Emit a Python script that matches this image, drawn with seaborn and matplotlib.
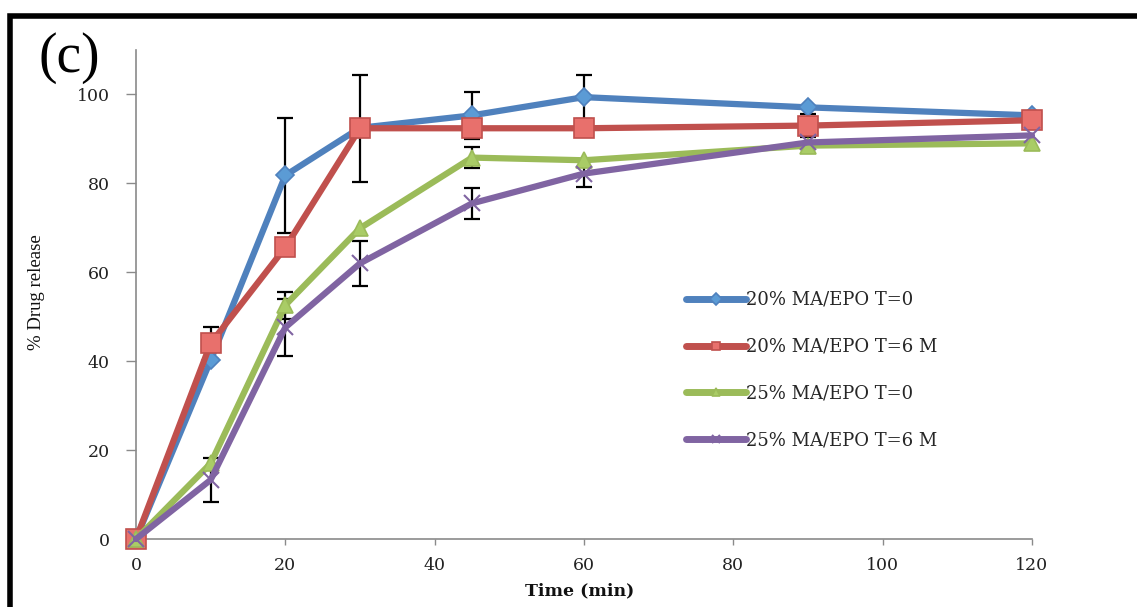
import numpy as np
import pandas as pd
import seaborn as sns
import matplotlib.pyplot as plt
from matplotlib.patches import Rectangle

# time points (min)
time = [0, 10, 20, 30, 45, 60, 90, 120]

labels = ['20% MA/EPO T=0', '20% MA/EPO T=6 M', '25% MA/EPO T=0', '25% MA/EPO T=6 M']

ma20_t0 = [0, 40.2, 81.8, 92.5, 95.3, 99.4, 97.1, 95.3]
ma20_t6 = [0, 44.0, 65.6, 92.4, 92.4, 92.4, 93.0, 94.2]
ma25_t0 = [0, 17.0, 52.6, 69.9, 85.8, 85.2, 88.5, 89.0]
ma25_t6 = [0, 13.3, 47.6, 62.0, 75.5, 82.2, 89.2, 90.8]

# standard deviations (0 = no bar visible)
err20_t0 = [0, 0, 13.0, 0, 5.3, 5.0, 0, 0]
err20_t6 = [0, 3.6, 0, 12.0, 0, 0, 2.5, 0]
err25_t0 = [0, 0, 3.0, 0, 2.3, 0, 0, 0]
err25_t6 = [0, 5.0, 6.5, 5.0, 3.5, 3.0, 0, 0]

colors = ['#4F81BD', '#C0504D', '#9BBB59', '#8064A2']
faces = ['#5B9BD5', '#E8706C', '#A9CC66', '#8E78B0']
markers = ['D', 's', '^', 'x']
msizes = [9, 14, 11, 12]

values = [ma20_t0, ma20_t6, ma25_t0, ma25_t6]
errors = [err20_t0, err20_t6, err25_t0, err25_t6]

sns.set_theme(style='white')
plt.rcParams['font.family'] = ['DejaVu Serif']

fig = plt.figure(figsize=(11.37, 6.07), dpi=100)
ax = fig.add_axes([0.1196, 0.112, 0.788, 0.8056])

for i in range(4):
    df = pd.DataFrame({'t': time, 'y': values[i]})
    sns.lineplot(data=df, x='t', y='y', ax=ax, color=colors[i], linewidth=4.5,
                 marker=markers[i], markersize=msizes[i], markerfacecolor=faces[i],
                 markeredgecolor=colors[i], markeredgewidth=1.2 if markers[i] != 'x' else 1.5,
                 label=labels[i], zorder=3 + i * 0.1, clip_on=False)
    t_e = [t for t, e in zip(time, errors[i]) if e > 0]
    v_e = [v for v, e in zip(values[i], errors[i]) if e > 0]
    e_e = [e for e in errors[i] if e > 0]
    ax.errorbar(t_e, v_e, yerr=e_e, fmt='none', ecolor='black', elinewidth=1.6,
                capsize=6, capthick=1.6, zorder=2)

ax.set_xlim(0, 120)
ax.set_ylim(0, 110)
ax.set_xticks([0, 20, 40, 60, 80, 100, 120])
ax.set_yticks([0, 20, 40, 60, 80, 100])

for s in ['top', 'right']:
    ax.spines[s].set_visible(False)
for s in ['left', 'bottom']:
    ax.spines[s].set_color('#8a8a8a')
    ax.spines[s].set_linewidth(1.2)
ax.spines['left'].set_zorder(1)
ax.spines['bottom'].set_zorder(1)

ax.tick_params(axis='y', direction='out', length=7, width=1, color='#8a8a8a',
               pad=12, labelsize=12.5, labelcolor='#222222', left=True)
ax.tick_params(axis='x', direction='out', length=4, width=1, color='#8a8a8a',
               pad=9, labelsize=12.5, labelcolor='#222222', bottom=True)

ax.set_xlabel('Time (min)', fontsize=12.5, fontweight='bold', color='#111111')
ax.xaxis.set_label_coords(0.495, -0.088)
ax.set_ylabel('% Drug release', fontsize=13.5, family='Liberation Serif', color='#111111')
ax.yaxis.set_label_coords(-0.102, 0.505)

leg = ax.legend(loc='upper left', bbox_to_anchor=(0.606, 0.522), frameon=False,
                fontsize=13, handlelength=3.3, handletextpad=0.0, labelspacing=1.6,
                borderaxespad=0)
for h in leg.legend_handles:
    h.set_markersize(6)
    h.set_linewidth(5)

fig.text(0.034, 0.905, '(c)', fontsize=40, family='Liberation Serif', va='center',
         color='black')

fig.patches.append(Rectangle((0.009, -0.05), 1.1, 1.024, transform=fig.transFigure,
                             fill=False, edgecolor='black', linewidth=4, zorder=10))

fig.savefig('out.png', dpi=100)
